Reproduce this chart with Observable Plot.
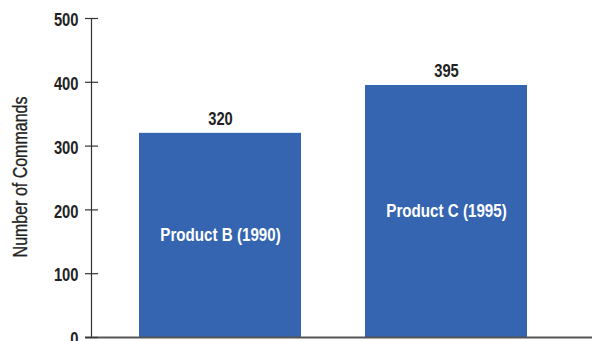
<!DOCTYPE html>
<html>
<head>
<meta charset="utf-8">
<script src="https://cdn.jsdelivr.net/npm/d3@7"></script>
<script src="https://cdn.jsdelivr.net/npm/@observablehq/plot@0.6"></script>
<style>
  html, body { margin: 0; padding: 0; background: #fff; }
  #chart svg { display: block; }
</style>
</head>
<body>
<div id="chart"></div>
<script>
const products = ["Product B (1990)", "Product C (1995)"];
const commands = [320, 395];
const yTicks = [0, 100, 200, 300, 400, 500];
const yLabel = "Number of Commands";

const data = products.map((p, i) => ({product: p, value: commands[i]}));
const FONT = "'Liberation Sans', Arial, sans-serif";
const BAR = "#3565B0";

const chart = Plot.plot({
  width: 595,
  height: 341,
  marginLeft: 91,
  marginRight: 3,
  marginTop: 18,
  marginBottom: 4,
  style: {fontFamily: FONT, background: "#fff", overflow: "visible"},
  x: {domain: products, paddingInner: 0.2832, paddingOuter: 0.25, align: 0.425, axis: null},
  y: {domain: [0, 500], axis: null},
  marks: [
    Plot.barY(data, {x: "product", y: "value", fill: BAR}),
    Plot.frame({anchor: "left", stroke: "#333", strokeWidth: 1.2}),
    Plot.ruleY([0], {insetLeft: -6, stroke: "#555", strokeWidth: 2}),
    Plot.axisY(yTicks, {tickSize: 13, dx: 7, stroke: "#333", strokeWidth: 1.2, fill: "none", label: null}),
    Plot.axisY(yTicks, {
      tickSize: 0, tickPadding: 13, dy: 2, fontSize: 18, fontWeight: "bold", fill: "#222", label: null
    }),
    Plot.text([yLabel], {frameAnchor: "left", textAnchor: "middle", rotate: -90, dx: -71, dy: -1, text: d => d,
      fontSize: 19.5, fill: "#222", stroke: "#222", strokeWidth: 0.3}),
    Plot.text(data, {x: "product", y: "value", text: d => String(d.value), lineAnchor: "bottom", dy: -8,
      fontSize: 18, fontWeight: "bold", fill: "#222"}),
    Plot.text(data, {x: "product", y: d => d.value / 2, text: "product", fill: "#fff",
      fontSize: 18.5, fontWeight: "bold"})
  ]
});
// condense the glyphs horizontally (no narrow font is installed)
d3.select(chart).selectAll("text").each(function() {
  const t = this.getAttribute("transform");
  if (t) this.setAttribute("transform", t + " scale(0.82,1)");
});
document.getElementById("chart").appendChild(chart);
</script>
</body>
</html>
